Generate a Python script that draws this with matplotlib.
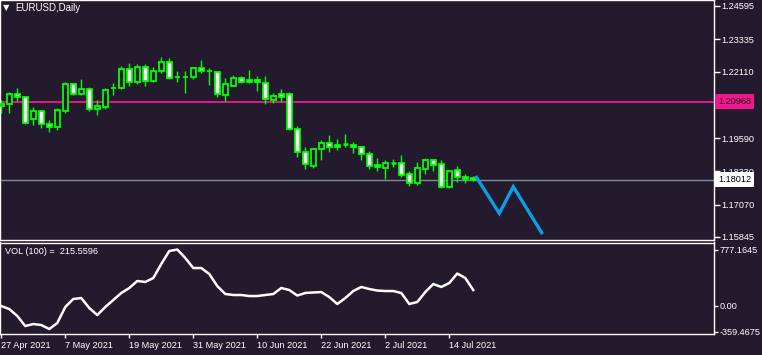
import matplotlib
matplotlib.use("Agg")
import matplotlib.pyplot as plt
import matplotlib.transforms as mtransforms

plt.rcParams['font.family'] = ['Liberation Sans', 'DejaVu Sans']

BG = '#231a2e'
GREEN = '#00ff00'
MAGENTA = '#f0168c'
GRAY = '#7d8b99'
BLUE = '#0aa0e6'

# ---- data ----
opens = [1.20807, 1.20882, 1.21261, 1.21148, 1.20314, 1.20617, 1.20125, 1.20011, 1.20617, 1.21640,
         1.21261, 1.21451, 1.20693, 1.20769, 1.21489, 1.21489, 1.22208, 1.21716, 1.22284, 1.21754,
         1.22133, 1.22473, 1.21905, 1.21890, 1.21905, 1.22246, 1.22133, 1.22095, 1.21223, 1.21564,
         1.21867, 1.21792, 1.21792, 1.21678, 1.21034, 1.21261, 1.21261, 1.19935, 1.19064, 1.18534,
         1.19178, 1.19405, 1.19329, 1.19367, 1.19329, 1.19254, 1.18988, 1.18572, 1.18458, 1.18648,
         1.18648, 1.18231, 1.17890, 1.18420, 1.18761, 1.18610, 1.17738, 1.18382, 1.18117, 1.18079]
highs = [1.21034, 1.21337, 1.21489, 1.21186, 1.20769, 1.20655, 1.20276, 1.20731, 1.21716, 1.21678,
         1.21829, 1.21526, 1.21034, 1.21489, 1.21678, 1.22322, 1.22436, 1.22398, 1.22398, 1.22284,
         1.22663, 1.22625, 1.22133, 1.22133, 1.22284, 1.22549, 1.22246, 1.22133, 1.21867, 1.21981,
         1.21943, 1.22170, 1.21943, 1.21943, 1.21299, 1.21451, 1.21337, 1.20049, 1.19254, 1.19216,
         1.19519, 1.19708, 1.19557, 1.19746, 1.19443, 1.19292, 1.19102, 1.18837, 1.18761, 1.18799,
         1.18951, 1.18345, 1.18685, 1.18837, 1.18799, 1.18761, 1.18382, 1.18534, 1.18231, 1.18155]
lows = [1.20542, 1.20542, 1.20996, 1.20125, 1.20087, 1.19973, 1.19822, 1.19898, 1.20542, 1.21223,
        1.21223, 1.20617, 1.20466, 1.20693, 1.21223, 1.21451, 1.21564, 1.21640, 1.21564, 1.21716,
        1.22057, 1.21829, 1.21716, 1.21299, 1.21829, 1.22057, 1.21602, 1.21148, 1.20996, 1.21564,
        1.21678, 1.21678, 1.21375, 1.20882, 1.20920, 1.20958, 1.19898, 1.18875, 1.18420, 1.18458,
        1.18761, 1.19064, 1.19140, 1.19254, 1.19026, 1.18761, 1.18420, 1.18345, 1.18041, 1.18496,
        1.18117, 1.17776, 1.17814, 1.18231, 1.18345, 1.17701, 1.17701, 1.17928, 1.17890, 1.17966]
closes = [1.20882, 1.21261, 1.21148, 1.20163, 1.20617, 1.20125, 1.20011, 1.20655, 1.21640, 1.21261,
          1.21451, 1.20693, 1.20807, 1.21413, 1.21470, 1.22208, 1.21716, 1.22284, 1.21754, 1.22133,
          1.22473, 1.21867, 1.21890, 1.21905, 1.22246, 1.22133, 1.22120, 1.21261, 1.21640, 1.21867,
          1.21716, 1.21716, 1.21716, 1.21072, 1.21186, 1.21148, 1.19935, 1.19064, 1.18610, 1.19178,
          1.19405, 1.19254, 1.19254, 1.19360, 1.19254, 1.18988, 1.18534, 1.18496, 1.18648, 1.18640,
          1.18193, 1.17890, 1.18458, 1.18761, 1.18572, 1.17738, 1.18345, 1.18117, 1.18041, 1.18012]

vol100 = [-5, -46, -142, -281, -253, -267, -322, -239, -18, 93,
          106, -32, -129, -18, 79, 176, 245, 342, 328, 383,
          577, 756, 777, 660, 521, 521, 438, 272, 162, 148,
          148, 134, 134, 148, 162, 245, 217, 141, 176, 183,
          189, 120, 24, 106, 203, 259, 231, 210, 203, 203,
          176, 24, 51, 189, 300, 259, 314, 445, 383, 215.5596]

forecast_x = [59.4, 62.25, 64.0, 67.55]
forecast_y = [1.18106, 1.16742, 1.17750, 1.16008]

resistance = 1.20968
last_price = 1.18012

price_ticks = [1.24595, 1.23335, 1.22110, 1.20850, 1.19590, 1.18330, 1.17070, 1.15845]
vol_ticks = [777.1645, 0.0, -359.4675]
vol_tick_labels = ['777.1645', '0.00', '-359.4675']
date_pos = [0, 8, 16, 24, 32, 40, 48, 56]
date_labels = ['27 Apr 2021', '7 May 2021', '19 May 2021', '31 May 2021',
               '10 Jun 2021', '22 Jun 2021', '2 Jul 2021', '14 Jul 2021']

# ---- figure ----
W, H = 762, 355
FS = 6.6
fig = plt.figure(figsize=(W / 100, H / 100), dpi=100, facecolor=BG)
ax = fig.add_axes([0, 1 - 240 / H, 714 / W, 240 / H], facecolor=BG)
ax2 = fig.add_axes([0, 1 - 334 / H, 714 / W, (334 - 242.5) / H], facecolor=BG)

xlim = (-0.16, 89.09)
for a in (ax, ax2):
    a.set_xlim(*xlim)
    for s in a.spines.values():
        s.set_color('white')
        s.set_linewidth(1)

ax.set_ylim(1.15731, 1.24822)
ax2.set_ylim(-391, 874)

# horizontal lines
ax.axhline(resistance, color=MAGENTA, lw=1.3, zorder=1)
ax.axhline(last_price, color=GRAY, lw=1.0, zorder=1)

# candles
n = len(opens)
xs = list(range(n))
ax.vlines(xs, lows, highs, color=GREEN, lw=1, zorder=2)
bw = 0.58
for i in range(n):
    o, c = opens[i], closes[i]
    lo, hi = min(o, c), max(o, c)
    if hi - lo < 0.00012:
        ax.hlines((o + c) / 2, i - bw / 2, i + bw / 2, color=GREEN, lw=1.8, zorder=3)
    else:
        face = 'white' if c < o else BG
        ax.bar(i, hi - lo, bottom=lo, width=bw, color=face, edgecolor=GREEN,
               linewidth=1.3, zorder=3)

# forecast line
ax.plot(forecast_x, forecast_y, color=BLUE, lw=2.4, zorder=4, solid_joinstyle='miter')

# price axis
ax.yaxis.tick_right()
ax.set_yticks(price_ticks)
ax.set_yticklabels([f'{t:.5f}' for t in price_ticks])
ax.tick_params(axis='y', colors='white', labelcolor='white', length=4, width=1,
               labelsize=FS, pad=1.5)
ax.set_xticks([])

trans = mtransforms.blended_transform_factory(ax.transAxes, ax.transData)
ax.text(1.0055, resistance, '1.20968', transform=trans, ha='left', va='center',
        fontsize=FS, color='#2a1020', zorder=10,
        bbox=dict(boxstyle='square,pad=0.32', fc=MAGENTA, ec='none'), clip_on=False)
ax.text(1.0055, last_price, '1.18012', transform=trans, ha='left', va='center',
        fontsize=FS, color='black', zorder=10,
        bbox=dict(boxstyle='square,pad=0.32', fc='white', ec='none'), clip_on=False)

ax.text(3 / 714, 1 - 8 / 240, '\u25bc', transform=ax.transAxes, ha='left', va='center',
        fontsize=6, color='white', family=['DejaVu Sans'])
ax.text(15 / 714, 1 - 8 / 240, 'EURUSD,Daily', transform=ax.transAxes, ha='left',
        va='center', fontsize=7, color='white')

# indicator panel
ax2.plot(xs, vol100, color='white', lw=1.8, zorder=3)
ax2.yaxis.tick_right()
ax2.set_yticks(vol_ticks)
ax2.set_yticklabels(vol_tick_labels)
ax2.tick_params(axis='y', colors='white', labelcolor='white', length=3, width=1,
                labelsize=FS, pad=1)
ax2.set_xticks(date_pos)
ax2.set_xticklabels(date_labels, ha='left')
ax2.tick_params(axis='x', colors='white', labelcolor='white', length=3, width=1,
                labelsize=FS, pad=2)
ax2.text(5 / 714, 1 - 9 / 91.5, 'VOL (100) =  215.5596', transform=ax2.transAxes,
         ha='left', va='center', fontsize=FS, color='white')

fig.savefig('out.png', dpi=100, facecolor=BG)
